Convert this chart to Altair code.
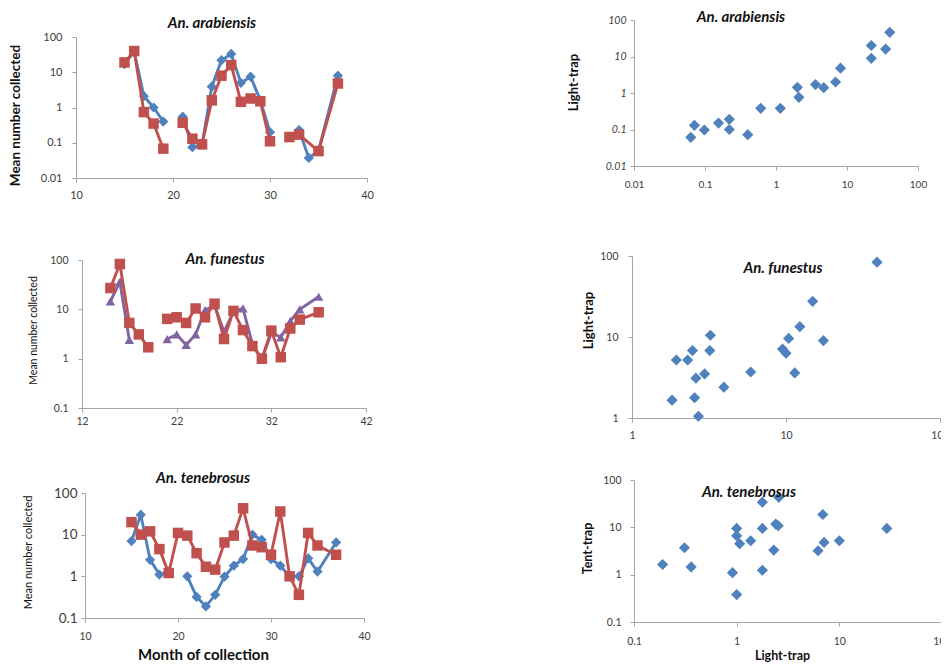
import altair as alt
import pandas as pd

FONT = "Lato"
BLUE = "#4F81BD"
RED = "#C0504D"
PURPLE = "#8064A2"
AXC = "#A6A6A6"
LBL = "#404040"
W, H = 933, 655   # whole drawing area (page minus 8px margins)

# ---------------- data: monthly means (left column) ----------------
ara_months_lt = [15, 16, 17, 18, 19, 20, 21, 22, 23, 24, 25, 26, 27, 28, 29, 30, 31, 32, 33, 34, 35, 37]
ara_lt = [17, 38, 2.1, 1.0, 0.4, None, 0.55, 0.075, 0.09, 3.9, 22, 33, 5.0, 7.5, 1.6, 0.2, None, 0.15, 0.23, 0.037, 0.06, 8]
ara_months_tt = [15, 16, 17, 18, 19, 20, 21, 22, 23, 24, 25, 26, 27, 28, 29, 30, 31, 32, 33, 35, 37]
ara_tt = [19, 40, 0.74, 0.35, 0.068, None, 0.37, 0.13, 0.09, 1.6, 8, 16, 1.45, 1.8, 1.5, 0.11, None, 0.145, 0.17, 0.058, 4.8]

fun_months = [15, 16, 17, 18, 19, 20, 21, 22, 23, 24, 25, 26, 27, 28, 29, 30, 31, 32, 33, 34, 35, 37]
fun_a = [14.5, 36, 2.4, None, None, None, 2.5, 3.1, 1.9, 3.1, 9.7, 12, 3.5, 9, 10.5, 2.0, 0.96, 3.4, 2.7, 5.8, 10, 18]
fun_b = [27, 83, 5.3, 3.1, 1.7, None, 6.4, 6.9, 5.3, 10.4, 6.9, 13, 2.5, 9.3, 3.8, 1.8, 1.0, 3.7, 1.07, 4.1, 6.2, 8.7]

ten_months = [15, 16, 17, 18, 19, 20, 21, 22, 23, 24, 25, 26, 27, 28, 29, 30, 31, 32, 33, 34, 35, 37]
ten_lt = [7, 30, 2.5, 1.1, 1.3, None, 1.0, 0.32, 0.19, 0.36, 0.98, 1.8, 2.6, 10, 7.5, 2.6, 1.8, 1.0, 1.0, 2.7, 1.3, 6.5]
ten_tt = [20, 10, 12, 4.5, 1.2, 11, 9.5, 3.6, 1.7, 1.45, 6.5, 9.5, 43, 5.5, 5, 3.3, 36, 1.0, 0.36, 11, 5.5, 3.3]

# ---------------- data: scatter (right column) ----------------
ara_sc_x = [0.063, 0.071, 0.098, 0.155, 0.22, 0.22, 0.40, 0.61, 1.15, 2.0, 2.1, 3.6, 4.7, 6.9, 8.1, 22, 22, 35, 40]
ara_sc_y = [0.061, 0.13, 0.097, 0.15, 0.19, 0.10, 0.072, 0.38, 0.38, 1.43, 0.76, 1.7, 1.4, 2.0, 4.8, 8.9, 20, 16, 46]

fun_sc_x = [1.82, 1.94, 2.3, 2.47, 2.55, 2.6, 2.7, 2.96, 3.2, 3.23, 3.95, 5.9, 9.5, 10, 10.4, 11.4, 12.3, 14.9, 17.5, 39]
fun_sc_y = [1.66, 5.2, 5.2, 6.8, 1.78, 3.1, 1.05, 3.5, 6.8, 10.5, 2.4, 3.7, 7.1, 6.3, 9.6, 3.6, 13.4, 27.6, 9.0, 84]

ten_sc_x = [0.19, 0.31, 0.36, 0.91, 1.0, 1.0, 1.0, 1.07, 1.37, 1.78, 1.78, 1.78, 2.3, 2.4, 2.54, 2.57, 6.2, 6.9, 7.1, 10, 29]
ten_sc_y = [1.64, 3.7, 1.46, 1.1, 0.38, 9.5, 6.6, 4.5, 5.2, 34, 9.5, 1.24, 3.3, 11.7, 10.8, 43, 3.2, 18.7, 4.8, 5.2, 9.5]

LOG4 = [0.01, 0.1, 1, 10, 100]
LOG3 = [0.1, 1, 10, 100]
LOG2 = [1, 10, 100]

# panel boxes in drawing coordinates: (left, right, top, bottom)
BOX = {
    "p1": (68, 359, 29, 170),
    "p2": (74, 358, 252, 400),
    "p3": (77, 356, 485, 610),
    "p4": (626, 910, 12, 158),
    "p5": (624, 932, 248, 410),
    "p6": (626, 934, 472, 614),
}


def series_df(months, values, name):
    rows, seg = [], 0
    for m, v in zip(months, values):
        if v is None:
            seg += 1
            continue
        rows.append({"month": m, "value": v, "seg": f"{name}{seg}"})
    return pd.DataFrame(rows)


def yaxis(box, vals, tx, ty, ttext, tsize, tweight, lsize, lpad, italic=False):
    # tx: relative to the axis line; ty: absolute vertical centre of the title
    return alt.Axis(orient="left", offset=-box[0], values=vals, format="~g", title=ttext,
                    titleX=tx, titleY=ty, titleAngle=270, titleAlign="center",
                    titleBaseline="middle", titleFont=FONT, titleFontSize=tsize,
                    titleFontWeight=tweight, titleColor="#111", labelFont=FONT,
                    labelFontSize=lsize, labelPadding=lpad, labelColor=LBL,
                    labelFontStyle="italic" if italic else "normal", labelOverlap=False,
                    labelFlush=False, tickSize=4, grid=False, domainColor=AXC, tickColor=AXC)


def xaxis(box, vals, fmt, lsize, lpad, ttext=None, tx=0, ty=0, tsize=12):
    # tx: absolute horizontal centre of the title; ty: relative to the axis line
    kw = dict(orient="bottom", offset=box[3] - H, values=vals, format=fmt, labelFont=FONT,
              labelFontSize=lsize, labelPadding=lpad, labelColor=LBL, labelOverlap=False,
              labelFlush=False, tickSize=4, grid=False, domainColor=AXC, tickColor=AXC)
    if ttext:
        kw.update(title=ttext, titleX=tx, titleY=ty, titleAlign="center", titleBaseline="middle",
                  titleFont=FONT, titleFontSize=tsize, titleFontWeight="bold", titleColor="#111")
    else:
        kw.update(title=None)
    return alt.Axis(**kw)


def line_panel(box, series, xdom, ydom, yax, xax):
    x = alt.X("month:Q", scale=alt.Scale(domain=xdom, range=[box[0], box[1]], nice=False, zero=False),
              axis=xax)
    y = alt.Y("value:Q", scale=alt.Scale(type="log", domain=ydom, range=[box[3], box[2]], nice=False),
              axis=yax)
    layers = []
    for df, color, shape, size in series:
        base = alt.Chart(df)
        layers.append(base.mark_line(color=color, strokeWidth=2.9).encode(x=x, y=y, detail="seg:N"))
        layers.append(base.mark_point(shape=shape, filled=True, size=size, color=color, opacity=1)
                      .encode(x=x, y=y))
    return alt.layer(*layers)


def scatter_panel(box, xs, ys, xdom, ydom, yax, xax):
    df = pd.DataFrame({"lt": xs, "tt": ys})
    return alt.Chart(df).mark_point(shape="diamond", filled=True, size=125, color=BLUE, opacity=1).encode(
        x=alt.X("lt:Q", scale=alt.Scale(type="log", domain=xdom, range=[box[0], box[1]], nice=False),
                axis=xax),
        y=alt.Y("tt:Q", scale=alt.Scale(type="log", domain=ydom, range=[box[3], box[2]], nice=False),
                axis=yax),
    )


def panel_title(text, cx, cy, size=15):
    return alt.Chart(pd.DataFrame({"t": [text]})).mark_text(
        font=FONT, fontSize=size, fontWeight="bold", fontStyle="italic", color="#111",
        align="center", baseline="middle").encode(text="t:N", x=alt.value(cx), y=alt.value(cy))


b = BOX["p1"]
p1 = line_panel(b,
                [(series_df(ara_months_lt, ara_lt, "lt"), BLUE, "diamond", 105),
                 (series_df(ara_months_tt, ara_tt, "tt"), RED, "square", 110)],
                [10, 40], [0.01, 100],
                yaxis(b, LOG4, -61, 107, "Mean number collected", 13.5, "bold", 11, 10),
                xaxis(b, [10, 20, 30, 40], "d", 11, 7))

b = BOX["p2"]
p2 = line_panel(b,
                [(series_df(fun_months, fun_a, "a"), PURPLE, "triangle-up", 90),
                 (series_df(fun_months, fun_b, "b"), RED, "square", 110)],
                [12, 42], [0.1, 100],
                yaxis(b, LOG3, -49, 322, "Mean number collected", 10.5, "normal", 10.5, 10),
                xaxis(b, [12, 22, 32, 42], "d", 10.5, 4))

b = BOX["p3"]
p3 = line_panel(b,
                [(series_df(ten_months, ten_lt, "lt"), BLUE, "diamond", 105),
                 (series_df(ten_months, ten_tt, "tt"), RED, "square", 110)],
                [10, 40], [0.1, 100],
                yaxis(b, LOG3, -57, 544, "Mean number collected", 11, "normal", 13.5, 4),
                xaxis(b, [10, 20, 30, 40], "d", 10.5, 9, "Month of collection", 195, 36, 15))

b = BOX["p4"]
p4 = scatter_panel(b, ara_sc_x, ara_sc_y, [0.01, 100], [0.01, 100],
                   yaxis(b, LOG4, -61, 74, "Light-trap", 13, "bold", 10.5, 4, italic=True),
                   xaxis(b, LOG4, "~g", 10, 9))

b = BOX["p5"]
p5 = scatter_panel(b, fun_sc_x, fun_sc_y, [1, 100], [1, 100],
                   yaxis(b, LOG2, -44, 312, "Light-trap", 13, "bold", 10.5, 10),
                   xaxis(b, LOG2, "~g", 10.5, 8))

b = BOX["p6"]
p6 = scatter_panel(b, ten_sc_x, ten_sc_y, [0.1, 100], [0.1, 100],
                   yaxis(b, LOG3, -47, 540, "Tent-trap", 12.5, "bold", 10.5, 9),
                   xaxis(b, LOG3, "~g", 10.5, 10, "Light-trap", 774, 33, 12.5))

titles = [
    panel_title("An.  arabiensis", 204, 15),
    panel_title("An. funestus", 217, 251),
    panel_title("An. tenebrosus", 195, 470),
    panel_title("An. arabiensis", 733, 9),
    panel_title("An. funestus", 775, 260),
    panel_title("An. tenebrosus", 741, 484),
]

chart = alt.layer(p1, p2, p3, p4, p5, p6, *titles).resolve_scale(
    x="independent", y="independent"
).resolve_axis(x="independent", y="independent").properties(
    width=W, height=H, padding=0, autosize=alt.AutoSizeParams(type="none")
).configure_view(stroke=None).configure_axis(grid=False)

chart.save("out.html", embed_options={"renderer": "svg", "actions": False})
